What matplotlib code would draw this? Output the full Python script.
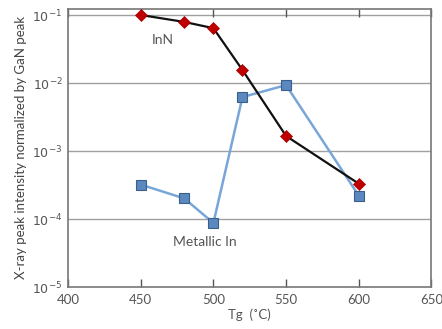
import matplotlib
matplotlib.use("Agg")
import matplotlib.pyplot as plt
from matplotlib.ticker import FixedLocator, NullLocator

plt.rcParams['font.family'] = ['Lato', 'DejaVu Sans']

tg = [450, 480, 500, 520, 550, 600]
inn = [0.1, 0.079, 0.064, 0.0155, 0.00166, 0.00033]
metallic_in = [3.2e-4, 2.0e-4, 8.7e-5, 6.2e-3, 9.3e-3, 2.2e-4]
x_ticks = [400, 450, 500, 550, 600, 650]
y_ticks = [1e-5, 1e-4, 1e-3, 1e-2, 1e-1]
y_labels = [r'$10^{-5}$', r'$10^{-4}$', r'$10^{-3}$', r'$10^{-2}$', r'$10^{-1}$']

fig = plt.figure(figsize=(4.42, 3.29), dpi=100)
ax = fig.add_axes([0.154, 0.128, 0.822, 0.845])
ax.set_yscale('log')
ax.set_xlim(400, 650)
ax.set_ylim(1e-5, 0.123)

for y in y_ticks[1:]:
    ax.axhline(y, color='#a0a0a0', lw=1.0, zorder=1)

ax.plot(tg, metallic_in, color='#79a6d8', lw=1.8, marker='s', ms=6.5,
        mfc='#5a88bf', mec='#3a5f8a', mew=0.8, zorder=3)
ax.plot(tg, inn, color='#111111', lw=1.6, marker='D', ms=6.5,
        mfc='#c00000', mec='#a00000', mew=0.5, zorder=4)

ax.text(465, 0.043, 'InN', fontsize=10, color='#555555', ha='center', va='center')
ax.text(494, 4.5e-5, 'Metallic In', fontsize=10, color='#555555', ha='center', va='center')

ax.xaxis.set_major_locator(FixedLocator(x_ticks))
ax.set_xticklabels([str(v) for v in x_ticks])
ax.yaxis.set_major_locator(FixedLocator(y_ticks))
ax.yaxis.set_minor_locator(NullLocator())
ax.set_yticklabels(y_labels)
ax.tick_params(axis='x', direction='in', top=True, length=6, width=1, color='#555555',
               labelsize=9.5, labelcolor='#555555', pad=5)
ax.tick_params(axis='y', length=0, labelsize=9, labelcolor='#555555', pad=4)
for s in ax.spines.values():
    s.set_color('#777777')
    s.set_linewidth(1.2)

ax.set_xlabel('Tg  (˚C)', fontsize=9.5, color='#555555', labelpad=2)
ax.set_ylabel('X-ray peak intensity normalized by GaN peak', fontsize=9.5, color='#444444', labelpad=4)

fig.savefig('out.png', dpi=100)
